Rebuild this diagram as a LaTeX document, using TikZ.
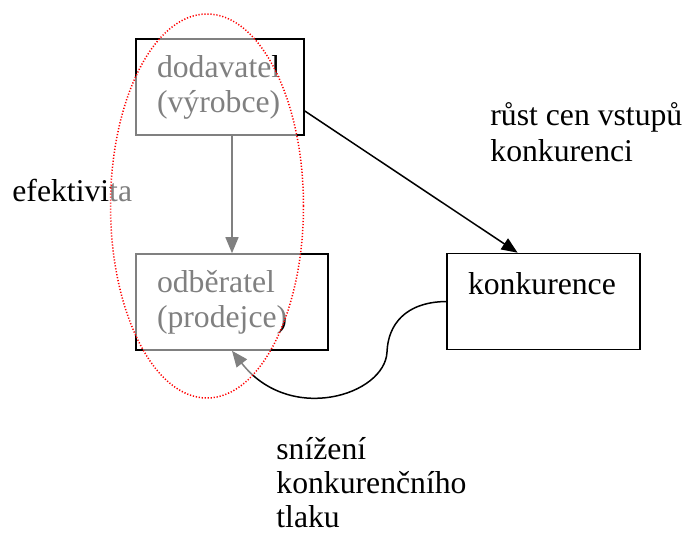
\documentclass[tikz,border=0pt]{standalone}
\usepackage{fontspec}
\setmainfont{Liberation Serif}
\usepackage{tikz}
\usetikzlibrary{arrows.meta, calc}

\begin{document}
\begin{tikzpicture}[x=0.5pt, y=-0.5pt,
    font=\fontsize{15.85pt}{17.5pt}\selectfont,
    box/.style={rectangle, draw=black, line width=0.8pt, minimum height=48pt, inner xsep=10.5pt, inner ysep=2pt, align=left},
    label/.style={anchor=base west, inner sep=0pt, align=left},
    arrow/.style={-{Triangle[length=8pt, width=6.5pt]}, line width=0.75pt}
]
    \useasboundingbox (0,0) rectangle (686,535);

    % Boxes
    \node[box, text width=63pt] (dodavatel) at (220,87) {dodavatel\\(výrobce)};
    \node[box, text width=75pt] (odberatel) at (232,302) {odběratel\\(prodejce)};
    \node[box, text width=75.5pt] (konkurence) at (543.5,301.5) {konkurence\\\mbox{}};

    % Labels (base = last line)
    \node[label] (efektivita) at (12,201) {efektivita};
    \node[label, font=\fontsize{15.85pt}{18.3pt}\selectfont] (rust) at (490,162) {růst cen vstupů\\konkurenci};
    \node[label, font=\fontsize{15.85pt}{17pt}\selectfont] (snizeni) at (276,527) {snížení\\konkurenčního\\tlaku};

    % Arrows
    \draw[arrow] (odberatel.north |- dodavatel.south) -- (odberatel.north);
    \draw[arrow] ([yshift=-12pt]dodavatel.east) -- ($(konkurence.north west)!0.367!(konkurence.north east)$);
    \draw[arrow] (konkurence.west) .. controls (405,302) and (388,325) .. (387,352)
        .. controls (385,395) and (290,425) .. (odberatel.south);

    % Ellipse over the supply chain
    \fill[white, fill opacity=0.5] (207,206) ellipse [x radius=96.5, y radius=192];
    \draw[red, line width=0.75pt, dash pattern=on 0.6pt off 0.9pt] (207,206) ellipse [x radius=96.5, y radius=192];

\end{tikzpicture}
\end{document}
